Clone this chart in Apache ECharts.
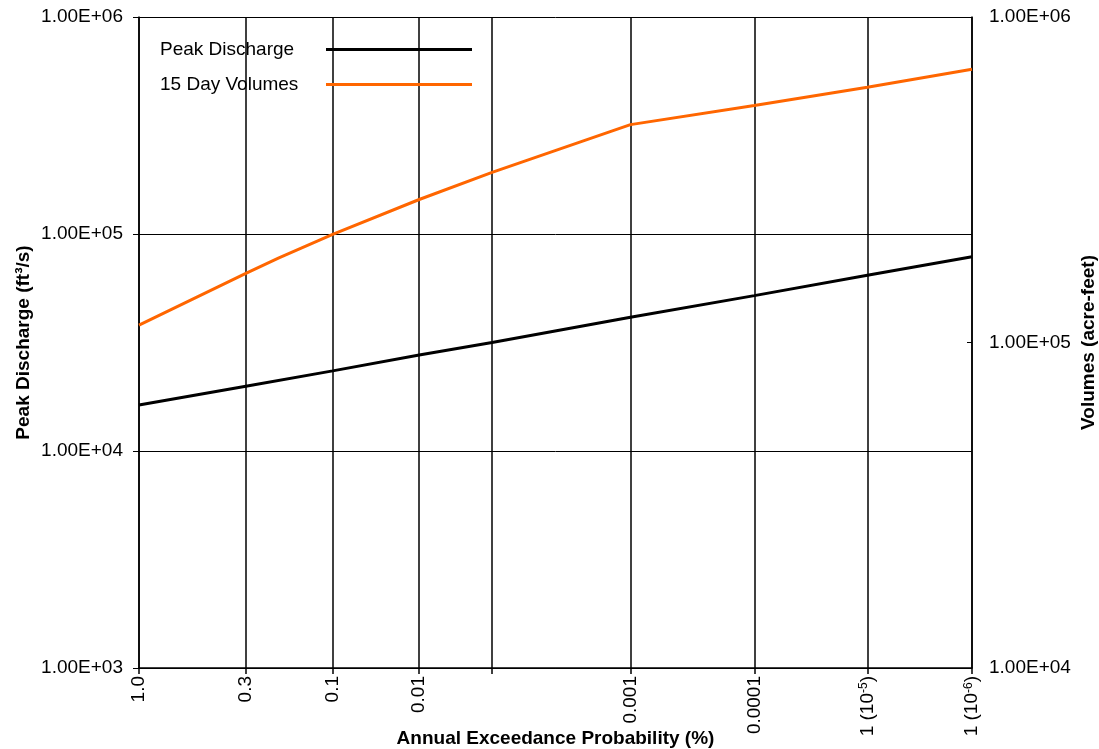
<!DOCTYPE html>
<html><head><meta charset="utf-8">
<script src="https://cdn.jsdelivr.net/npm/echarts@6/dist/echarts.min.js"></script>
<style>html,body{margin:0;padding:0;background:#fff}#c{width:1099px;height:749px}</style>
</head><body><div id="c"></div>
<script>
// Annual exceedance probabilities (%) where the x grid lines sit, and their labels
const tickProbabilities = [1, 0.3, 0.1, 0.03, 0.01, 0.001, 0.0001, 0.00001, 0.000001];
const tickLabels = ['1.0', '0.3', '0.1', '0.01', '', '0.001', '0.0001', '1 (10{s|-5})', '1 (10{s|-6})'];

// Peak discharge (ft3/s)
const peakProbabilities = [1, 0.3, 0.1, 0.03, 0.01, 0.001, 0.0001, 0.00001, 0.000001];
const peakDischarge = [16300, 19900, 23400, 27700, 31600, 41300, 52000, 64500, 78600];

// 15 day volumes (acre-feet)
const volumeProbabilities = [1, 0.3, 0.2, 0.1, 0.03, 0.01, 0.001, 0.0001, 0.00001, 0.000001];
const volumes15Day = [113000, 163000, 182000, 215000, 275000, 333000, 467000, 535000, 608000, 691000];

const seriesNames = ['Peak Discharge', '15 Day Volumes'];

// inverse standard normal CDF (Acklam)
function invNorm(p) {
  const a = [-3.969683028665376e+01, 2.209460984245205e+02, -2.759285104469687e+02, 1.383577518672690e+02, -3.066479806614716e+01, 2.506628277459239e+00];
  const b = [-5.447609879822406e+01, 1.615858368580409e+02, -1.556989798598866e+02, 6.680131188771972e+01, -1.328068155288572e+01];
  const c = [-7.784894002430293e-03, -3.223964580411365e-01, -2.400758277161838e+00, -2.549732539343734e+00, 4.374664141464968e+00, 2.938163982698783e+00];
  const d = [7.784695709041462e-03, 3.224671290700398e-01, 2.445134137142996e+00, 3.754408661907416e+00];
  const pl = 0.02425, ph = 1 - pl;
  let q, r;
  if (p < pl) {
    q = Math.sqrt(-2 * Math.log(p));
    return (((((c[0]*q+c[1])*q+c[2])*q+c[3])*q+c[4])*q+c[5]) / ((((d[0]*q+d[1])*q+d[2])*q+d[3])*q+1);
  } else if (p <= ph) {
    q = p - 0.5; r = q * q;
    return (((((a[0]*r+a[1])*r+a[2])*r+a[3])*r+a[4])*r+a[5])*q / (((((b[0]*r+b[1])*r+b[2])*r+b[3])*r+b[4])*r+1);
  } else {
    q = Math.sqrt(-2 * Math.log(1 - p));
    return -(((((c[0]*q+c[1])*q+c[2])*q+c[3])*q+c[4])*q+c[5]) / ((((d[0]*q+d[1])*q+d[2])*q+d[3])*q+1);
  }
}
// normal probability plotting position for an exceedance probability in %
function plotPos(pct) { return -invNorm(pct / 100); }

const tickPos = tickProbabilities.map(plotPos);
const xMin = tickPos[0], xMax = tickPos[tickPos.length - 1];

function sci(v) {
  const e = Math.round(Math.log10(v));
  const m = v / Math.pow(10, e);
  return m.toFixed(2) + 'E' + (e < 0 ? '-' : '+') + String(Math.abs(e)).padStart(2, '0');
}

const FONT = 'Liberation Sans, Arial, sans-serif';
const chart = echarts.init(document.getElementById('c'), null, {renderer: 'canvas'});
chart.setOption({
  animation: false,
  backgroundColor: '#fff',
  textStyle: {fontFamily: FONT, color: '#000'},
  grid: {left: 139, right: 127, top: 17, bottom: 81, containLabel: false, outerBoundsMode: 'none'},
  legend: {
    orient: 'vertical', left: 155, top: 35, align: 'right',
    icon: 'rect', itemWidth: 146, itemHeight: 3, itemGap: 16,
    data: seriesNames,
    formatter: n => '{t|' + n + '}',
    textStyle: {fontSize: 19, color: '#000', fontFamily: FONT,
      rich: {t: {width: 161, align: 'left', fontSize: 19, lineHeight: 22, color: '#000', fontFamily: FONT}}}
  },
  xAxis: {
    type: 'value', min: xMin, max: xMax,
    name: 'Annual Exceedance Probability (%)', nameLocation: 'middle', nameGap: 61, nameMoveOverlap: false,
    nameTextStyle: {fontSize: 19, fontWeight: 'bold', color: '#000', fontFamily: FONT},
    axisLine: {show: true, lineStyle: {color: '#000', width: 1.5}},
    axisTick: {show: true, customValues: tickPos, length: 6, lineStyle: {color: '#000', width: 1.5}},
    axisLabel: {
      customValues: tickPos, rotate: 90, margin: 8, fontSize: 19, color: '#000', fontFamily: FONT,
      formatter: v => {
        let bi = 0, bd = Infinity;
        tickPos.forEach((t, i) => { const dd = Math.abs(t - v); if (dd < bd) { bd = dd; bi = i; } });
        return tickLabels[bi];
      },
      rich: {s: {fontSize: 12, verticalAlign: 'top', color: '#000', fontFamily: FONT}}
    },
    splitLine: {show: true, lineStyle: {color: '#000', width: 1.5}}
  },
  yAxis: [{
    type: 'log', logBase: 10, min: 1000, max: 1000000, position: 'left',
    name: 'Peak Discharge (ft³/s)', nameLocation: 'middle', nameGap: 106, nameRotate: 90, nameMoveOverlap: false,
    nameTextStyle: {fontSize: 19, fontWeight: 'bold', color: '#000', fontFamily: FONT},
    axisLine: {show: true, lineStyle: {color: '#000', width: 1.5}},
    axisTick: {show: true, length: 6, lineStyle: {color: '#000', width: 1}},
    axisLabel: {fontSize: 19, color: '#000', margin: 16, formatter: sci, fontFamily: FONT},
    splitLine: {show: true, lineStyle: {color: '#000', width: 1}},
    minorTick: {show: false}
  }, {
    type: 'log', logBase: 10, min: 10000, max: 1000000, position: 'right',
    name: 'Volumes (acre-feet)', nameLocation: 'middle', nameGap: 107, nameRotate: 90, nameMoveOverlap: false,
    nameTextStyle: {fontSize: 19, fontWeight: 'bold', color: '#000', fontFamily: FONT},
    axisLine: {show: true, lineStyle: {color: '#000', width: 1.5}},
    axisTick: {show: true, inside: true, length: 5, lineStyle: {color: '#000', width: 1}},
    axisLabel: {fontSize: 19, color: '#000', margin: 17, formatter: sci, fontFamily: FONT},
    splitLine: {show: false}
  }],
  series: [{
    name: seriesNames[0], type: 'line', yAxisIndex: 0, symbol: 'none',
    color: '#000', lineStyle: {color: '#000', width: 3},
    data: peakProbabilities.map((p, i) => [plotPos(p), peakDischarge[i]])
  }, {
    name: seriesNames[1], type: 'line', yAxisIndex: 1, symbol: 'none',
    color: '#FF6600', lineStyle: {color: '#FF6600', width: 3},
    data: volumeProbabilities.map((p, i) => [plotPos(p), volumes15Day[i]])
  }]
});
</script></body></html>
